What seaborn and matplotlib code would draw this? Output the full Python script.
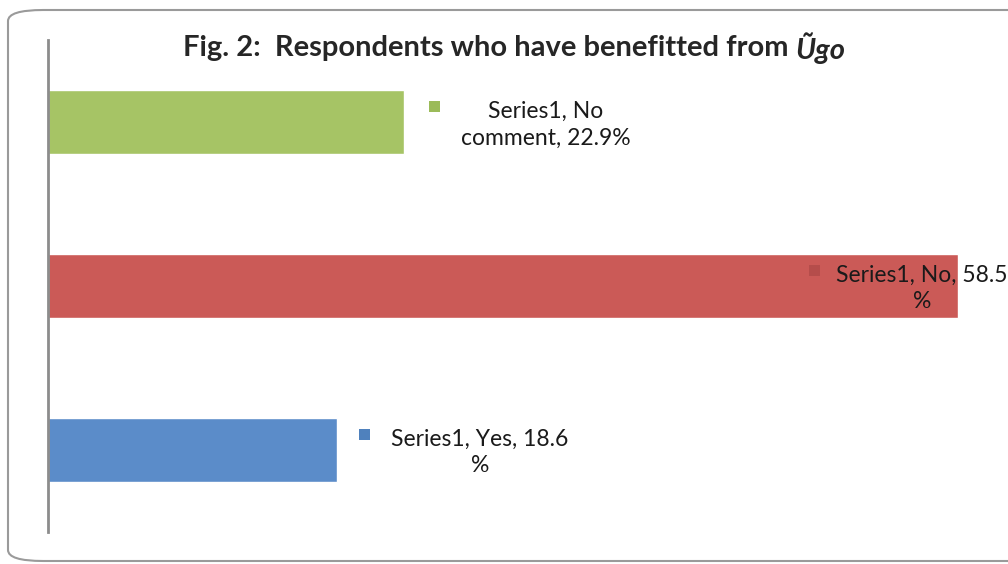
import matplotlib.pyplot as plt
import seaborn as sns
import pandas as pd
from matplotlib.patches import FancyBboxPatch, Rectangle

# data
answers = ["No comment", "No", "Yes"]
percent = [22.9, 58.5, 18.6]
key_colours = ["#9BBB59", "#B54D4B", "#4F81BD"]
bar_colours = ["#A6C465", "#CB5A57", "#5B8CC9"]
labels = ["Series1, No\ncomment, 22.9%", "Series1, No, 58.5\n%", "Series1, Yes, 18.6\n%"]

df = pd.DataFrame({"answer": answers, "percent": percent})

sns.set_style("white")
plt.rcParams["font.family"] = ["Lato", "DejaVu Sans"]

fig = plt.figure(figsize=(10.08, 5.64), dpi=100)
ax = fig.add_axes([47.5 / 1008, 32 / 564, 960.5 / 1008, 492 / 564])

sns.barplot(data=df, x="percent", y="answer", hue="answer", order=answers,
            palette=bar_colours, width=0.39, legend=False, ax=ax, saturation=1)

px = 15.56  # pixels per percent
ax.set_xlim(0, 960.5 / px)
ax.set_ylim(2.5, -0.5)
ax.set_xlabel("")
ax.set_ylabel("")
ax.set_xticks([])
ax.set_yticks([])
for s in ["top", "right", "bottom"]:
    ax.spines[s].set_visible(False)
ax.spines["left"].set_color("#8c8c8c")
ax.spines["left"].set_linewidth(2)

# data labels with a small key square, offset from the bar end
offsets = [2.0, -9.2, 1.8]
text_shift = [7.1, 6.9, 7.4]
for i, (v, lab) in enumerate(zip(percent, labels)):
    kx = v + offsets[i]
    ax.add_patch(Rectangle((kx - 5.5 / px, i - 0.095 - 5.5 / 164), 11 / px, 11 / 164,
                           facecolor=key_colours[i], edgecolor="none", zorder=5))
    ax.text(kx + text_shift[i], i + 0.015, lab, ha="center", va="center",
            fontsize=16.5, linespacing=1.35, color="#1a1a1a", zorder=6,
            clip_on=False)

# title: bold part + italic word
fig.canvas.draw()
r = fig.canvas.get_renderer()
t1 = fig.text(183 / 1008, 1 - 48 / 564, "Fig. 2:  Respondents who have benefitted from ",
              fontsize=21, fontweight="bold", va="center", ha="left")
bb = t1.get_window_extent(r)
fig.text(bb.x1 / 1008, 1 - 48 / 564, "Ũgo", fontsize=21, fontweight="bold",
         fontstyle="italic", va="center", ha="left")

# rounded chart border
fig.patches.append(FancyBboxPatch((8 / 1008, 3 / 564), 1040 / 1008, 551 / 564,
                                  boxstyle="round,pad=0,rounding_size=0.035",
                                  transform=fig.transFigure, facecolor="none",
                                  edgecolor="#9a9a9a", linewidth=1.5,
                                  mutation_aspect=564 / 1008))

fig.savefig("out.png", dpi=100)
